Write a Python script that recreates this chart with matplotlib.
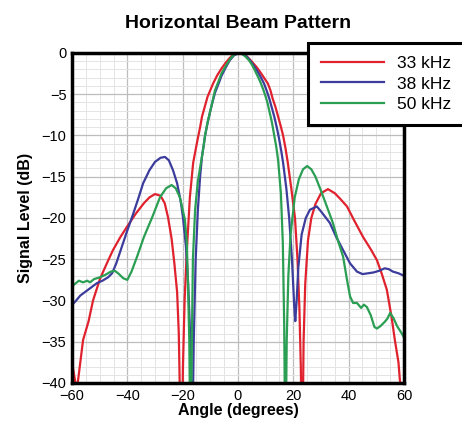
import matplotlib
matplotlib.use("Agg")
import matplotlib.pyplot as plt
from matplotlib.ticker import MultipleLocator

plt.rcParams['font.family'] = ['Liberation Sans', 'DejaVu Sans']

# ---------------- data ----------------
ang_33 = [-60, -59, -58.3, -57, -56, -54, -52.4, -50, -49, -47, -45.2, -42.5, -40, -37, -34, -32, -30,
          -28, -26.5, -25.3, -24, -23, -22, -21.4, -20.8, -20.2, -19.9, -19.3, -18.5, -17.4, -16.2,
          -15.3, -14.5, -13.7, -13, -12, -11, -10, -9, -7.5, -6, -4.5, -3, -1.5, 0, 1, 2, 3, 4.2,
          5.4, 6.7, 8, 9.4, 10.8, 11.7, 12.5, 13.5, 14.5, 15.4, 16.3, 17.2, 18, 19.3, 20.6, 21.5,
          22.2, 22.7, 23.0, 23.4, 23.7, 24.3, 25.3, 26.5, 28, 30, 32.5, 35, 37, 39.4, 42, 45.2, 48,
          50.2, 52, 53.8, 55.5, 56.7, 58, 58.5, 59.3]
db_33 = [-37.5, -39.5, -41, -37.5, -34.8, -32.5, -30, -27.5, -26.7, -25.2, -23.9, -22.3, -21, -19.5,
         -18.2, -17.5, -17.1, -17.3, -18.2, -19.9, -22.5, -25.5, -29, -34, -45, -45, -38, -30, -24,
         -17.5, -13.3, -11.7, -10.3, -9, -7.7, -6.5, -5.3, -4.5, -3.7, -2.7, -1.9, -1.2, -0.6, -0.15,
         0, 0, -0.1, -0.35, -0.75, -1.2, -1.7, -2.3, -3, -3.7, -4.5, -5.5, -6.5, -7.7, -8.8, -10,
         -11.6, -13.3, -16.5, -20, -25, -31, -38, -45, -45, -35, -28, -22.7, -20, -18.3, -17, -16.5,
         -17, -17.7, -18.6, -20.3, -22.3, -23.8, -25.1, -26.8, -28.7, -32, -34.8, -37.5, -39.6, -42]

ang_38 = [-60, -59, -57, -55, -53, -51, -49, -47, -45.5, -44, -42, -40, -38.3, -36, -34.3, -32, -30,
          -28, -26.4, -25, -23.5, -22, -20.7, -19.9, -18.8, -18, -17.2, -16.8, -16.4, -16, -15.3,
          -14.5, -13.7, -13, -12.4, -11.9, -11, -10, -9.1, -8.3, -7, -6, -4.5, -3, -1.5, 0, 1, 2, 3,
          4, 5, 6, 7, 8.2, 9.4, 10.4, 11.3, 12.2, 13.1, 14, 14.8, 15.6, 16.3,
          17.5, 18.5, 19.5, 20.3, 20.7, 21.2, 21.8, 23, 24.5, 26, 28.5, 30, 33.2, 35.5, 38, 40.5,
          43, 45, 47, 49, 51, 53, 54.5, 56, 58, 60]
db_38 = [-30.5, -30.2, -29.4, -28.9, -28.4, -27.9, -27.6, -27.2, -26.7, -25.5, -23.5, -21.5, -19.9,
         -17.6, -15.8, -14.2, -13.2, -12.7, -12.6, -13, -14.2, -15.8, -18, -19.9, -23.5, -28, -35,
         -45, -45, -35, -25, -19, -15, -12.5, -11.2, -10, -8.5, -7, -5.8, -4.8, -3.7, -2.8, -1.8,
         -0.9, -0.3, -0.05, 0, -0.15, -0.4, -0.75, -1.2, -1.7, -2.2, -2.9, -3.7, -4.6, -5.5, -6.6,
         -7.7, -9, -10.3, -11.8, -13.3, -16.5, -20, -25, -30.5, -32.5, -30, -26, -22, -20, -19,
         -18.6, -19.2, -20.6, -22.3, -23.9, -25.5, -26.5, -26.8, -26.7, -26.6, -26.4, -26.1, -26.2,
         -26.5, -26.7, -27]

ang_50 = [-60, -59, -57.5, -56, -54.5, -53.5, -52, -50, -48, -46, -44.5, -43, -41.5, -40, -38.5, -36.5,
          -34, -31, -28.2, -26, -24, -22.5, -21, -19.2, -18.5, -18, -17.6, -17.3, -17, -16.6, -16.3,
          -15.5, -14.5, -13, -12.4, -11.9, -11, -10, -9.1, -8.3, -7, -6, -4.5, -3, -2, -1, 0, 1, 2,
          2.9, 4, 5, 5.8, 6.5, 7.4, 8.3, 9.2, 10, 10.7, 11.3, 12.2, 13, 13.8, 14.5,
          15.5, 16.2, 16.7, 17, 17.3, 17.6, 18.2, 19, 20.5, 22, 23.5, 25, 26.5, 28, 30, 32, 34.3, 36,
          38, 39.4, 40.5, 41.6, 43, 44.5, 45.5, 46.6, 48, 49.3, 50.2, 51.5, 53, 54, 55, 56.3, 57.5,
          59.2, 60]
db_50 = [-28.3, -28.0, -27.6, -27.8, -27.6, -27.8, -27.4, -27.2, -26.9, -26.5, -26.4, -26.8, -27.3,
         -27.5, -26.5, -24.7, -22.3, -19.9, -17.5, -16.4, -16, -16.4, -17.5, -20.2, -23, -29, -35,
         -45, -45, -33, -25, -19, -15.5, -12.5, -11.2, -10, -8.4, -7, -5.7, -4.5, -3.4, -2.5, -1.6,
         -0.8, -0.4, -0.1, 0, -0.05, -0.25, -0.5, -0.9, -1.4, -1.9, -2.4, -3, -3.7, -4.5, -5.3,
         -6.1, -7, -8.3, -9.8, -11.3, -13, -17, -23, -33, -45, -45, -35, -27, -22, -17.5, -15.3,
         -14.1, -13.7, -14.1, -15, -16.7, -18.5, -20.6, -22.6, -24.7, -27.5, -29.5, -30.3, -30.3,
         -30.9, -30.5, -30.8, -31.8, -33.2, -33.4, -33.1, -32.6, -32.2, -31.5, -32.2, -33.1, -34,
         -34.5]

series_labels = ['33 kHz', '38 kHz', '50 kHz']
x_ticks = [-60, -40, -20, 0, 20, 40, 60]
y_ticks = [0, -5, -10, -15, -20, -25, -30, -35, -40]

# ---------------- figure ----------------
W, H = 462, 428
fig = plt.figure(figsize=(W / 100, H / 100), dpi=100)
ax = fig.add_axes([72 / W, 1 - 383 / H, (404 - 72) / W, (383 - 53) / H])

colors = ['#e0222e', '#3c3c9c', '#2a9e52']
for a, d, c, lab in zip([ang_33, ang_38, ang_50], [db_33, db_38, db_50], colors, series_labels):
    ax.plot(a, d, color=c, lw=1.6, label=lab, solid_joinstyle='round')

ax.set_xlim(-60, 60)
ax.set_ylim(-40, 0)
ax.set_xticks(x_ticks)
ax.set_yticks(y_ticks)
ax.xaxis.set_minor_locator(MultipleLocator(5))
ax.yaxis.set_minor_locator(MultipleLocator(1))
ax.grid(which='major', color='#bdbdbd', lw=0.9)
ax.grid(which='minor', color='#e4e4e4', lw=0.7)
ax.set_axisbelow(True)
ax.tick_params(which='both', length=0, labelsize=10.5, pad=4)
for s in ax.spines.values():
    s.set_linewidth(2.5)
    s.set_color('black')

ax.set_xlabel('Angle (degrees)', fontsize=11.5, fontweight='bold', labelpad=0)
ax.set_ylabel('Signal Level (dB)', fontsize=11.5, fontweight='bold', labelpad=6)
fig.text((72 + 404) / 2 / W, 1 - 23 / H, 'Horizontal Beam Pattern', ha='center', va='center',
         fontsize=14, fontweight='bold')

leg = ax.legend(loc='upper left', bbox_to_anchor=(308 / W, 1 - 43 / H), bbox_transform=fig.transFigure,
                frameon=True, fancybox=False, fontsize=12.5, handlelength=3.6, handletextpad=0.8,
                labelspacing=0.3, borderpad=0.75, borderaxespad=0)
leg.get_frame().set_edgecolor('black')
leg.get_frame().set_linewidth(2.2)
leg.get_frame().set_alpha(1)

fig.savefig('out.png', dpi=100)
